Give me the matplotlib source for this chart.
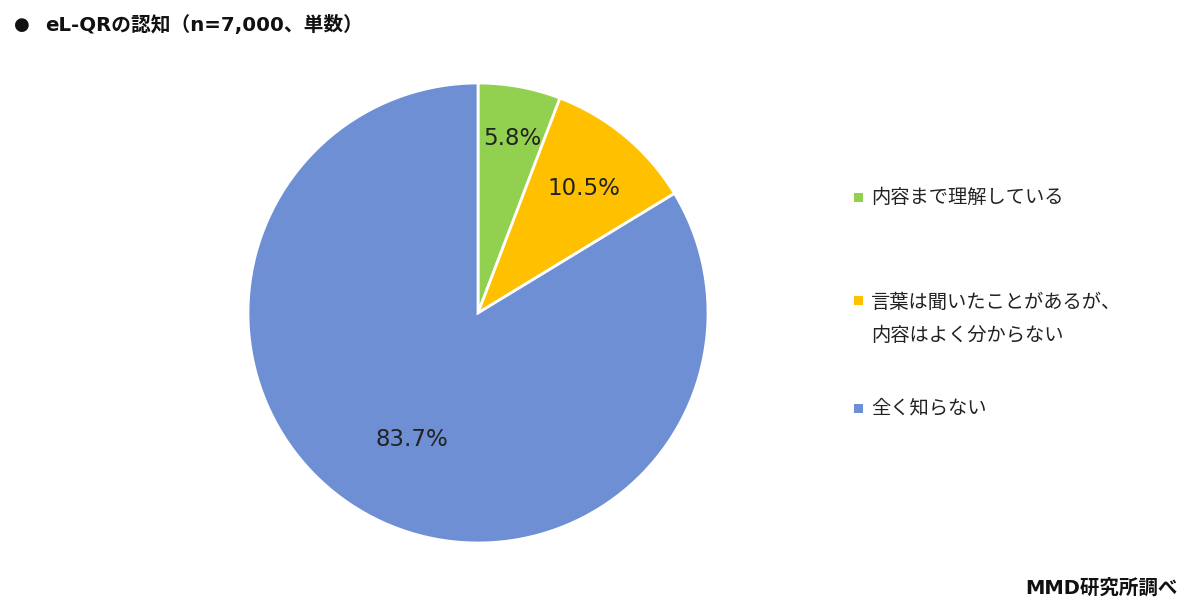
import matplotlib.pyplot as plt
from matplotlib.patches import Rectangle
import numpy as np

plt.rcParams['font.family'] = ['Noto Sans CJK JP', 'DejaVu Sans']
latin_first = ['DejaVu Sans', 'Noto Sans CJK JP']

labels = ['内容まで理解している', '言葉は聞いたことがあるが、\n内容はよく分からない', '全く知らない']
values = [5.8, 10.5, 83.7]
colors = ['#92D050', '#FFC000', '#6E8FD3']
title = 'eL-QRの認知（n=7,000、単数）'
source = 'MMD研究所調べ'

W, H = 1200, 613
fig = plt.figure(figsize=(W / 100, H / 100), dpi=100)

# pie: centre (478, 313), radius 230 px
ax = fig.add_axes([(478 - 230) / W, (H - 543) / H, 460 / W, 460 / H])
wedges, texts = ax.pie(values, colors=colors, startangle=90, counterclock=False,
                       wedgeprops=dict(edgecolor='white', linewidth=2))
ax.set_xlim(-1, 1)
ax.set_ylim(-1, 1)
ax.set_aspect('equal')
ax.axis('off')

# percentage labels (angle, distance from centre)
lab_pos = [(79.0, 0.775), (49.7, 0.71), (-117.5, 0.62)]
for v, (ang, d) in zip(values, lab_pos):
    a = np.deg2rad(ang)
    ax.text(d * np.cos(a), d * np.sin(a), f'{v}%', ha='center', va='center',
            fontsize=16.5, color='#222222', family='DejaVu Sans')

fig.text(22 / W, 1 - 25 / H, '●', fontsize=13, ha='center', va='center',
         color='#111111', family='DejaVu Sans')
fig.text(45 / W, 1 - 25 / H, title, fontsize=14.2, fontweight='bold',
         ha='left', va='center', color='#111111', family=latin_first)
fig.text(1178 / W, 1 - 588 / H, source, fontsize=14, fontweight='bold',
         ha='right', va='center', color='#111111', family=latin_first)

# legend
leg_y = [197, 319, 408]
for lab, c, y in zip(labels, colors, leg_y):
    n = lab.count('\n') + 1
    top = y - (n - 1) * 19
    fig.patches.append(Rectangle((854 / W, 1 - (top + 4.5) / H), 9 / W, 9 / H,
                                 transform=fig.transFigure, facecolor=c,
                                 edgecolor='none'))
    fig.text(871 / W, 1 - y / H, lab, fontsize=13.9, ha='left', va='center',
             linespacing=1.7, color='#222222')

fig.savefig('out.png', dpi=100, facecolor='white')
